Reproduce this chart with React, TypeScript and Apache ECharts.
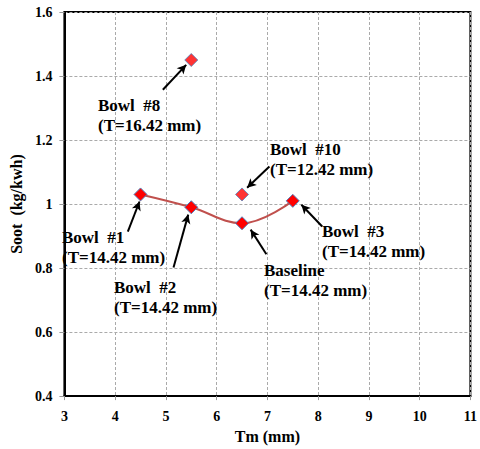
import React, { useEffect, useRef } from "react";
import * as echarts from "echarts";

// Data
const trendNames = ["Bowl #1", "Bowl #2", "Baseline", "Bowl #3"];
const trendTm = [4.5, 5.5, 6.5, 7.5];
const trendSoot = [1.03, 0.99, 0.94, 1.01];
const otherNames = ["Bowl #8", "Bowl #10"];
const otherTm = [5.5, 6.5];
const otherSoot = [1.45, 1.03];
const xTicks = [3, 4, 5, 6, 7, 8, 9, 10, 11];
const yTicks = [0.4, 0.6, 0.8, 1.0, 1.2, 1.4, 1.6];

const FONT = "Liberation Serif";

export default function App() {
  const ref = useRef<HTMLDivElement>(null);
  useEffect(() => {
    if (!ref.current) return;
    const chart = echarts.init(ref.current, null, { renderer: "svg" });

    // annotation arrows in data coordinates: [tail, head]
    const arrows: [number[], number[]][] = [
      [[4.94, 1.357], [5.4, 1.435]],
      [[7.04, 1.117], [6.6, 1.051]],
      [[4.25, 0.914], [4.48, 1.008]],
      [[5.15, 0.802], [5.44, 0.967]],
      [[6.98, 0.843], [6.67, 0.92]],
      [[8.08, 0.93], [7.67, 0.998]],
    ];
    const labels: { text: string; x: number; y: number }[] = [
      { text: "Bowl  #8\n(T=16.42 mm)", x: 98, y: 95 },
      { text: "Bowl  #10\n(T=12.42 mm)", x: 270, y: 139 },
      { text: "Bowl  #1\n(T=14.42 mm)", x: 62, y: 227 },
      { text: "Bowl  #2\n(T=14.42 mm)", x: 114, y: 277 },
      { text: "Baseline\n(T=14.42 mm)", x: 264, y: 260 },
      { text: "Bowl  #3\n(T=14.42 mm)", x: 322, y: 221 },
    ];

    const markerStyle = { color: "#ff0000", borderColor: "#4f81bd", borderWidth: 1 };
    const axisText = { fontFamily: FONT, fontWeight: "bold" as const, color: "#000" };

    chart.setOption({
      animation: false,
      backgroundColor: "#ffffff",
      textStyle: { fontFamily: FONT },
      grid: {
        left: 56,
        right: 8,
        top: 12,
        bottom: 52,
        show: true,
        borderColor: "#000",
        borderWidth: 2,
      },
      xAxis: {
        type: "value",
        min: xTicks[0],
        max: xTicks[xTicks.length - 1],
        interval: 1,
        name: "Tm (mm)",
        nameLocation: "middle",
        nameGap: 31,
        nameTextStyle: { ...axisText, fontSize: 16 },
        axisLine: { lineStyle: { color: "#000", width: 2 } },
        axisTick: { show: true, inside: false, length: 4, lineStyle: { color: "#999" } },
        axisLabel: { ...axisText, fontSize: 14, margin: 13 },
        splitLine: { show: true, lineStyle: { color: "#aaa", type: [3, 2], width: 1 } },
      },
      yAxis: {
        type: "value",
        min: yTicks[0],
        max: yTicks[yTicks.length - 1],
        interval: 0.2,
        name: "Soot  (kg/kwh)",
        nameLocation: "middle",
        nameGap: 32,
        nameTextStyle: { ...axisText, fontSize: 16 },
        axisLine: { lineStyle: { color: "#000", width: 2 } },
        axisTick: { show: true, inside: false, length: 5, lineStyle: { color: "#999" } },
        axisLabel: {
          ...axisText,
          fontSize: 14,
          margin: 12,
          formatter: (v: number) => (Math.abs(v - 1) < 1e-9 ? "1" : v.toFixed(1)),
        },
        splitLine: { show: true, lineStyle: { color: "#aaa", type: [3, 2], width: 1 } },
      },
      series: [
        {
          name: "trend",
          type: "line",
          smooth: 0.4,
          data: trendTm.map((x, i) => ({ name: trendNames[i], value: [x, trendSoot[i]] })),
          lineStyle: { color: "#c0504d", width: 2 },
          symbol: "diamond",
          symbolSize: 13,
          itemStyle: markerStyle,
          z: 3,
        },
        {
          name: "others",
          type: "scatter",
          data: otherTm.map((x, i) => ({ name: otherNames[i], value: [x, otherSoot[i]] })),
          symbol: "diamond",
          symbolSize: 13,
          itemStyle: markerStyle,
          z: 3,
          markLine: {
            silent: true,
            symbol: ["none", "arrow"],
            symbolSize: [7, 9],
            label: { show: false },
            lineStyle: { color: "#000", width: 2, type: "solid" },
            data: arrows.map(([a, b]) => [{ coord: a }, { coord: b }]),
          },
        },
      ],
      graphic: labels.map((l) => ({
        type: "text",
        left: l.x,
        top: l.y,
        z: 10,
        style: {
          text: l.text,
          fontFamily: FONT,
          fontWeight: "bold",
          fontSize: 17,
          lineHeight: 20,
          fill: "#000",
        },
      })),
    });
    return () => chart.dispose();
  }, []);
  return <div ref={ref} style={{ width: 480, height: 449, position: "absolute", left: 0, top: 0 }} />;
}
